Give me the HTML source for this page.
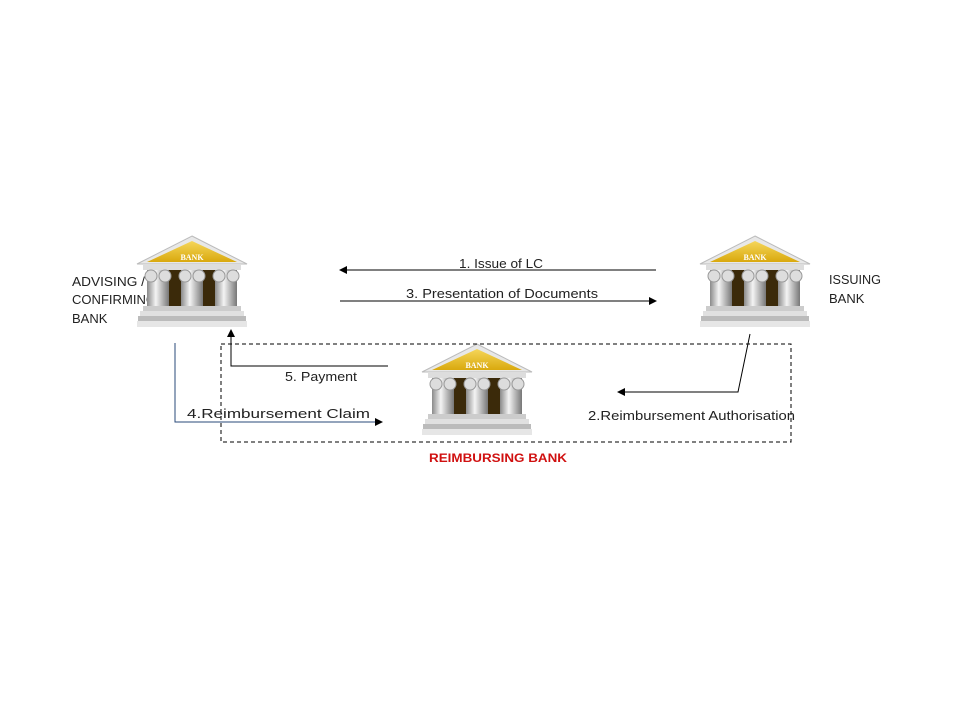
<!DOCTYPE html>
<html><head><meta charset="utf-8"><style>
body{margin:0;background:#fff}
svg{display:block}
text{font-family:"Liberation Sans",sans-serif;font-size:13px;fill:#222}
</style></head><body>
<svg width="960" height="720" viewBox="0 0 960 720" xmlns="http://www.w3.org/2000/svg">
<defs>
<linearGradient id="col" x1="0" x2="1"><stop offset="0" stop-color="#8a8a8a"/><stop offset=".4" stop-color="#f4f4f4"/><stop offset="1" stop-color="#777"/></linearGradient>
<linearGradient id="roof" x1="0" y1="0" x2="0" y2="1"><stop offset="0" stop-color="#f5d65a"/><stop offset="1" stop-color="#d9a90e"/></linearGradient>
<g id="bank">
<polygon points="55,0 110,28 0,28" fill="#e8e8e8" stroke="#bbb"/>
<polygon points="55,5 100,26 10,26" fill="url(#roof)"/>
<text x="55" y="24" text-anchor="middle" style="font-family:'Liberation Serif',serif;font-size:8px;fill:#fff;font-weight:bold">BANK</text>
<rect x="6" y="28" width="98" height="6" fill="#ddd"/>
<rect x="18" y="34" width="74" height="36" fill="#3b2a0a"/>
<rect x="10" y="34" width="22" height="36" fill="url(#col)"/>
<rect x="44" y="34" width="22" height="36" fill="url(#col)"/>
<rect x="78" y="34" width="22" height="36" fill="url(#col)"/>
<circle cx="14" cy="40" r="6" fill="#ddd" stroke="#999"/><circle cx="28" cy="40" r="6" fill="#ddd" stroke="#999"/>
<circle cx="48" cy="40" r="6" fill="#ddd" stroke="#999"/><circle cx="62" cy="40" r="6" fill="#ddd" stroke="#999"/>
<circle cx="82" cy="40" r="6" fill="#ddd" stroke="#999"/><circle cx="96" cy="40" r="6" fill="#ddd" stroke="#999"/>
<rect x="6" y="70" width="98" height="5" fill="#ccc"/>
<rect x="3" y="75" width="104" height="5" fill="#e0e0e0"/>
<rect x="1" y="80" width="108" height="5" fill="#bbb"/>
<rect x="0" y="85" width="110" height="6" fill="#e6e6e6"/>
</g>
<marker id="ah" markerWidth="8" markerHeight="8" refX="7" refY="4" orient="auto" markerUnits="userSpaceOnUse"><path d="M0,0 L8,4 L0,8 z" fill="#000"/></marker>
</defs>
<text x="72" y="286" textLength="73" lengthAdjust="spacingAndGlyphs">ADVISING /</text>
<text x="72" y="304" textLength="84" lengthAdjust="spacingAndGlyphs">CONFIRMING</text>
<text x="72" y="323">BANK</text>
<use href="#bank" x="137" y="236"/>
<use href="#bank" x="700" y="236"/>
<use href="#bank" x="422" y="344"/>
<text x="829" y="284" textLength="52" lengthAdjust="spacingAndGlyphs">ISSUING</text>
<text x="829" y="303">BANK</text>
<rect x="221" y="344" width="570" height="98" fill="none" stroke="#000" stroke-dasharray="4,3"/>
<line x1="656" y1="270" x2="340" y2="270" stroke="#000" marker-end="url(#ah)"/>
<text x="459" y="268" textLength="84" lengthAdjust="spacingAndGlyphs">1. Issue of LC</text>
<line x1="340" y1="301" x2="656" y2="301" stroke="#000" marker-end="url(#ah)"/>
<text x="406" y="298" textLength="192" lengthAdjust="spacingAndGlyphs">3. Presentation of Documents</text>
<polyline points="388,366 231,366 231,330" fill="none" stroke="#000" marker-end="url(#ah)"/>
<text x="285" y="381" textLength="72" lengthAdjust="spacingAndGlyphs">5. Payment</text>
<polyline points="175,343 175,422 382,422" fill="none" stroke="#2a4a7a" marker-end="url(#ah)"/>
<text x="187" y="418" textLength="183" lengthAdjust="spacingAndGlyphs">4.Reimbursement Claim</text>
<polyline points="750,334 738,392 618,392" fill="none" stroke="#000" marker-end="url(#ah)"/>
<text x="588" y="420" textLength="207" lengthAdjust="spacingAndGlyphs">2.Reimbursement Authorisation</text>
<text x="429" y="462" textLength="138" lengthAdjust="spacingAndGlyphs" style="fill:#d01010;font-weight:bold;font-size:12px">REIMBURSING BANK</text>
</svg>
</body></html>
